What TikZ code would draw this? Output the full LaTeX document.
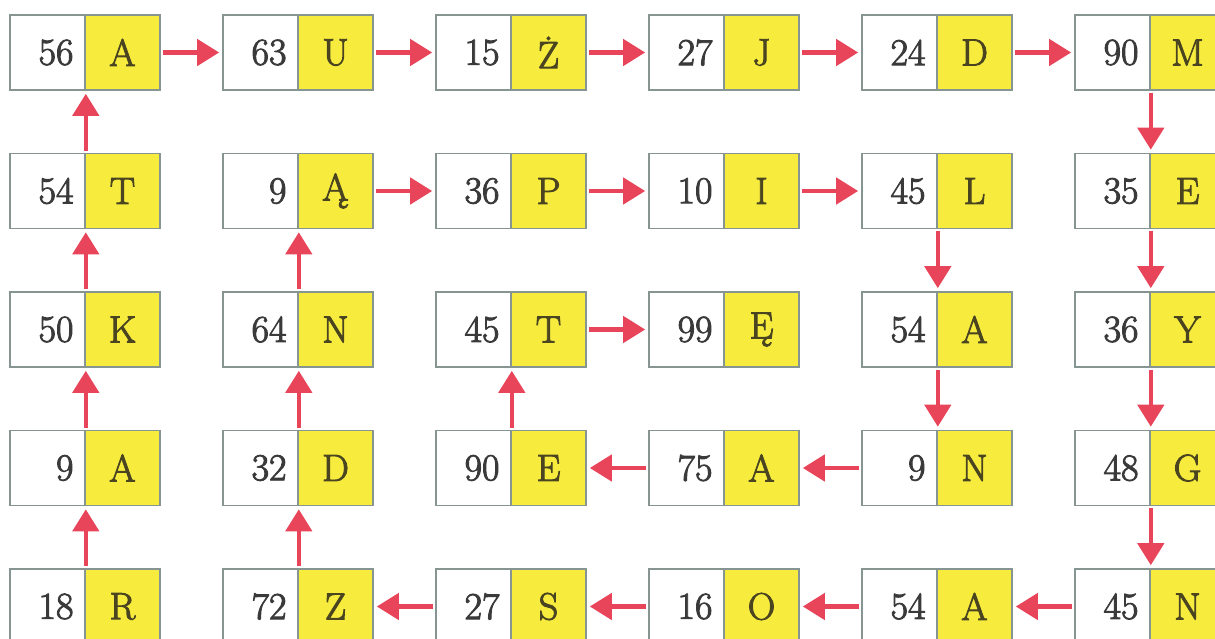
\documentclass[tikz,border=0pt]{standalone}
\usepackage{fontspec}
\usetikzlibrary{arrows.meta}
\definecolor{boxline}{HTML}{869592}
\definecolor{cellyellow}{HTML}{F7EC3E}
\definecolor{arrred}{HTML}{E8455A}
\definecolor{txt}{HTML}{3A3A3A}
\definecolor{lettxt}{HTML}{4A4520}
\newcommand{\cellfont}{\fontsize{38}{42}\selectfont}
\newcommand{\heavy}[1]{\special{pdf:literal direct 2 Tr 0.95 w}#1\special{pdf:literal direct 0 Tr}}
\tikzset{
  numcell/.style={draw=boxline, line width=1.6pt, fill=white, minimum height=75pt,
    text width=52pt, inner xsep=11.5pt, inner ysep=0pt, align=right, text=txt,
    font=\cellfont},
  letcell/.style={draw=boxline, line width=1.6pt, fill=cellyellow, minimum width=75pt,
    minimum height=75pt, inner sep=0pt, text=lettxt, font=\cellfont},
  arr/.style={draw=arrred, line width=4.5pt, -{Triangle[width=26pt,length=22pt]},
    shorten >=3pt, shorten <=2pt}
}
\newcommand{\mycell}[5]{%
  \node[numcell] (n#1#2) at ({47.5+213*#2},{52.5+138.5*#1}) {\heavy{#3}};
  \node[letcell] (l#1#2) at ({122.5+213*#2},{52.5+138.5*#1}) {\heavy{#4}\vphantom{#5}};
}
\begin{document}
\begin{tikzpicture}[x=1pt,y=-1pt]
\useasboundingbox[fill=white] (0,0) rectangle (1215,639);
% row 0
\mycell{0}{0}{56}{A}{}
\mycell{0}{1}{63}{U}{}
\mycell{0}{2}{15}{Ż}{}
\mycell{0}{3}{27}{J}{}
\mycell{0}{4}{24}{D}{}
\mycell{0}{5}{90}{M}{}
% row 1
\mycell{1}{0}{54}{T}{}
\mycell{1}{1}{9}{Ą}{}
\mycell{1}{2}{36}{P}{}
\mycell{1}{3}{10}{I}{}
\mycell{1}{4}{45}{L}{}
\mycell{1}{5}{35}{E}{}
% row 2
\mycell{2}{0}{50}{K}{}
\mycell{2}{1}{64}{N}{}
\mycell{2}{2}{45}{T}{}
\mycell{2}{3}{99}{Ę}{}
\mycell{2}{4}{54}{A}{}
\mycell{2}{5}{36}{Y}{}
% row 3
\mycell{3}{0}{9}{A}{}
\mycell{3}{1}{32}{D}{}
\mycell{3}{2}{90}{E}{}
\mycell{3}{3}{75}{A}{}
\mycell{3}{4}{9}{N}{}
\mycell{3}{5}{48}{G}{}
% row 4
\mycell{4}{0}{18}{R}{}
\mycell{4}{1}{72}{Z}{}
\mycell{4}{2}{27}{S}{}
\mycell{4}{3}{16}{O}{}
\mycell{4}{4}{54}{A}{}
\mycell{4}{5}{45}{N}{}
% row 0 rightwards
\draw[arr] (l00.east) -- (n01.west);
\draw[arr] (l01.east) -- (n02.west);
\draw[arr] (l02.east) -- (n03.west);
\draw[arr] (l03.east) -- (n04.west);
\draw[arr] (l04.east) -- (n05.west);
% column 5 downwards
\draw[arr] (n05.south east) -- (n15.north east);
\draw[arr] (n15.south east) -- (n25.north east);
\draw[arr] (n25.south east) -- (n35.north east);
\draw[arr] (n35.south east) -- (n45.north east);
% row 4 leftwards
\draw[arr] (n45.west) -- (l44.east);
\draw[arr] (n44.west) -- (l43.east);
\draw[arr] (n43.west) -- (l42.east);
\draw[arr] (n42.west) -- (l41.east);
% column 1 upwards
\draw[arr] (n41.north east) -- (n31.south east);
\draw[arr] (n31.north east) -- (n21.south east);
\draw[arr] (n21.north east) -- (n11.south east);
% row 1 rightwards
\draw[arr] (l11.east) -- (n12.west);
\draw[arr] (l12.east) -- (n13.west);
\draw[arr] (l13.east) -- (n14.west);
% column 4 downwards
\draw[arr] (n14.south east) -- (n24.north east);
\draw[arr] (n24.south east) -- (n34.north east);
% row 3 leftwards
\draw[arr] (n34.west) -- (l33.east);
\draw[arr] (n33.west) -- (l32.east);
% column 2 upwards
\draw[arr] (n32.north east) -- (n22.south east);
% row 2 rightwards
\draw[arr] (l22.east) -- (n23.west);
% column 0 upwards
\draw[arr] (n40.north east) -- (n30.south east);
\draw[arr] (n30.north east) -- (n20.south east);
\draw[arr] (n20.north east) -- (n10.south east);
\draw[arr] (n10.north east) -- (n00.south east);
\end{tikzpicture}
\end{document}
